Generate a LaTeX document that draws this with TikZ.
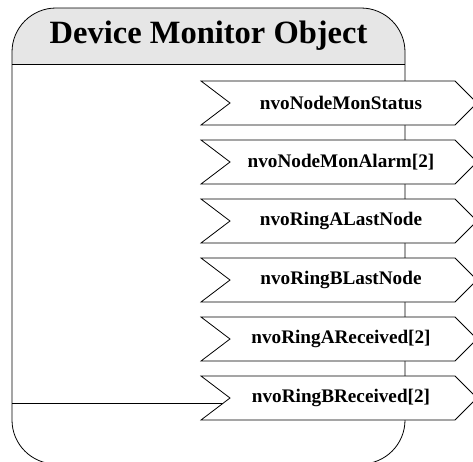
\documentclass[tikz,border=0pt]{standalone}
\usepackage{fontspec}
\setmainfont{Liberation Serif}
\definecolor{hdrgray}{HTML}{E6E6E6}
\begin{document}
\begin{tikzpicture}[x=1pt,y=-1pt,line width=0.8pt,
  outline/.style={draw=black,line width=0.8pt},
  chev/.style={draw=black,fill=white,line width=0.8pt,line join=miter},
  lbl/.style={font=\bfseries\fontsize{19.2}{21}\selectfont,inner sep=0pt},
  title/.style={font=\bfseries\fontsize{32.5}{35}\selectfont,inner sep=0pt}]
\useasboundingbox (0,0) rectangle (473,461);
\begin{scope}
\clip (0,0) rectangle (473,461);
% header fill
\fill[hdrgray] (12,64) -- (12,52) arc[start angle=180,end angle=270,radius=44]
  -- (361,8) arc[start angle=270,end angle=360,radius=44] -- (405,64) -- cycle;
% outer box
\draw[outline] (12,52) arc[start angle=180,end angle=270,radius=44]
  -- (361,8) arc[start angle=270,end angle=360,radius=44]
  -- (405,420) arc[start angle=0,end angle=90,radius=44]
  -- (56,464) arc[start angle=90,end angle=180,radius=44] -- cycle;
\draw[outline] (12,64) -- (405,64);
\node[title] (title) at (208.5,36) {Device Monitor Object};
% connector from left edge to last chevron
\coordinate (lft) at (12,403);
\coordinate (n6) at (230,398);
\draw[outline] (lft) -- (lft -| n6);
% chevrons
\foreach \t/\nm/\txt in {81/c1/nvoNodeMonStatus,140/c2/nvoNodeMonAlarm[2],199/c3/nvoRingALastNode,258/c4/nvoRingBLastNode,317/c5/nvoRingAReceived[2],376/c6/nvoRingBReceived[2]}{
  \draw[chev] (201,\t) -- (455,\t) -- (477,\t+22) -- (455,\t+44) -- (201,\t+44) -- (230,\t+22) -- cycle;
  \node[lbl] (\nm) at (341,\t+22) {\txt};
}
\end{scope}
\end{tikzpicture}
\end{document}
